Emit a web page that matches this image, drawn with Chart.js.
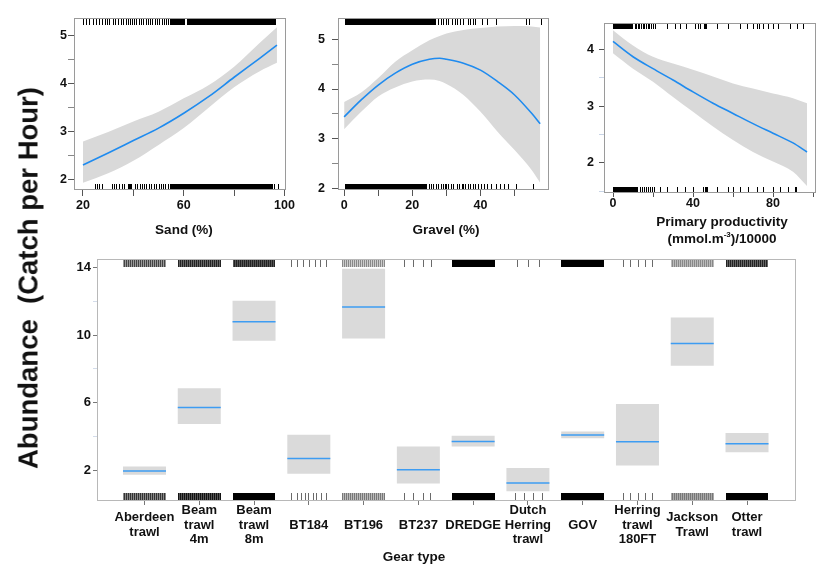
<!DOCTYPE html>
<html><head><meta charset="utf-8">
<script src="https://cdn.jsdelivr.net/npm/chart.js@4.4.0/dist/chart.umd.min.js"></script>
<style>
html,body{margin:0;padding:0;background:#fff;}
#root{position:relative;width:830px;height:584px;overflow:hidden;font-family:'Liberation Sans',Arial,sans-serif;color:#111;}
.wrap{position:absolute;}
.lbl{position:absolute;font-weight:bold;white-space:nowrap;transform:translate(-50%,-50%);line-height:1;font-size:13.5px;}
.ytitle{position:absolute;font-weight:bold;white-space:pre;font-size:27.5px;line-height:27px;transform:translate(-50%,-50%) rotate(-90deg);}
</style></head><body>
<div id="root">
  <div class="wrap" style="left:0;top:0;width:300px;height:250px"><canvas id="cSand"></canvas></div>
  <div class="wrap" style="left:270px;top:0;width:290px;height:250px"><canvas id="cGravel"></canvas></div>
  <div class="wrap" style="left:560px;top:0;width:270px;height:250px"><canvas id="cPP"></canvas></div>
  <div class="wrap" style="left:0;top:245px;width:830px;height:339px"><canvas id="cGear"></canvas></div>
  <div class="lbl" style="left:184px;top:230px">Sand (%)</div>
  <div class="lbl" style="left:446px;top:230px">Gravel (%)</div>
  <div class="lbl" style="left:722px;top:222px">Primary productivity</div>
  <div class="lbl" style="left:722px;top:238px">(mmol.m<sup style="font-size:8px">-3</sup>)/10000</div>
  <div class="lbl" style="left:414px;top:557px">Gear type</div>
  <div class="ytitle" style="left:28px;top:278px">Abundance  (Catch per Hour)</div>
</div>
<script>
// ---------------- DATA ----------------
// Sand
const sandX     = [20, 30, 40, 50, 60, 70, 80, 90, 97];
const sandFit   = [2.31, 2.56, 2.82, 3.08, 3.39, 3.74, 4.14, 4.53, 4.81];
const sandUpper = [2.80, 3.00, 3.22, 3.42, 3.70, 3.98, 4.36, 4.85, 5.18];
const sandLower = [1.94, 2.14, 2.40, 2.73, 3.08, 3.51, 3.93, 4.26, 4.44];
const sandXTicks = [20, 40, 60, 80, 100];
const sandXLabels = [20, 60, 100];
const sandYTicks = [2, 2.5, 3, 3.5, 4, 4.5, 5];
const sandYLabels = [2, 3, 4, 5];
const sandRugTop = [20, 21.2, 22.3, 24, 25.1, 26.2, 27.5, 28.6, 29.6, 30.4, 31.8, 32.8, 34.1, 35.1,
  36, 36.9, 37.8, 38.6, 39.5, 40.4, 41.2, 42.3, 43.1, 44, 45, 45.8, 46.7, 47.6, 48.5, 49.4, 50.3, 51.2, 52, 53, 53.8];
const sandRugTopDense = [[54.5, 60.4], [61.4, 96.6]];
const sandRugBottom = [24.8, 25.7, 26.5, 27.4, 31.4, 32.4, 33.3, 34.4, 35.3, 36.2, 40.6, 41.5, 42.6, 43.4, 44.3,
  45.2, 46.4, 47.2, 48.1, 49, 50.1, 50.9, 51.8, 52.7, 53.6, 96, 97.3];
const sandRugBottomDense = [[37.9, 39.3], [54.5, 95.4]];

// Gravel
const gravelX     = [0, 5, 10, 15, 20, 25, 28, 30, 35, 40, 45, 50, 55, 57.5];
const gravelFit   = [3.44, 3.78, 4.08, 4.32, 4.50, 4.60, 4.62, 4.60, 4.52, 4.38, 4.15, 3.88, 3.51, 3.30];
const gravelUpper = [3.74, 3.93, 4.22, 4.55, 4.78, 4.98, 5.07, 5.12, 5.19, 5.23, 5.26, 5.27, 5.26, 5.24];
const gravelLower = [3.19, 3.54, 3.85, 4.03, 4.15, 4.19, 4.16, 4.10, 3.88, 3.54, 3.14, 2.77, 2.37, 2.11];
const gravelXTicks = [0, 10, 20, 30, 40, 50];
const gravelXLabels = [0, 20, 40];
const gravelYTicks = [2, 2.5, 3, 3.5, 4, 4.5, 5];
const gravelYLabels = [2, 3, 4, 5];
const gravelRugTop = [27.5, 28.3, 29, 29.8, 30.5, 31.5, 32.4, 33.2, 34, 35, 36.2, 37, 37.9, 38.5, 40.5, 42, 44.4, 53.2, 54.1, 57.6];
const gravelRugTopDense = [[0.3, 26.8]];
const gravelRugBottom = [24.8, 25.5, 26.2, 27, 27.6, 28.3, 29, 29.5, 30, 30.5, 31.2, 32, 33, 33.8, 34.5, 35, 35.5,
  36.2, 37, 37.8, 38.5, 39.4, 40.2, 41, 42, 43, 44.4, 45.6, 46.8, 48.2, 50.3, 55.3];
const gravelRugBottomDense = [[0.3, 24.4]];

// Primary productivity
const ppX     = [0, 10, 20, 30, 40, 50, 60, 70, 80, 90, 97];
const ppFit   = [4.14, 3.87, 3.66, 3.46, 3.25, 3.05, 2.87, 2.69, 2.52, 2.35, 2.19];
const ppUpper = [4.34, 4.07, 3.87, 3.75, 3.64, 3.52, 3.40, 3.31, 3.22, 3.14, 3.05];
const ppLower = [3.93, 3.66, 3.43, 3.16, 2.90, 2.64, 2.40, 2.19, 2.02, 1.84, 1.59];
const ppXTicks = [0, 20, 40, 60, 80, 100];
const ppXLabels = [0, 40, 80];
const ppYTicks = [1.5, 2, 2.5, 3, 3.5, 4];
const ppYLabels = [2, 3, 4];
const ppRugTop = [10.8, 11.5, 12.3, 13, 14, 14.8, 15.6, 16.5, 17.3, 18.2, 19, 20, 21,
  26.8, 31, 33.5, 36.5, 41, 42.7, 43.5, 45.5, 46, 46.5, 51.8, 57.7, 63.5, 66.8, 70.2, 71.8, 73.2, 75.2, 77.7, 80.2, 82.7, 88.5, 91.8, 95.2];
const ppRugTopDense = [[0, 10]];
const ppRugBottom = [13.5, 14.5, 15.5, 16.5, 17.5, 18.5, 19.5, 20.5,
  23.5, 27, 32, 36, 40, 45, 45.8, 46.5, 47.2, 52, 57.5, 60, 63.5, 67.5, 72, 75, 80, 83.5, 87.5, 91, 91.6];
const ppRugBottomDense = [[0, 12.5]];

// Gear type
const gearTypes = ['Aberdeen trawl', 'Beam trawl 4m', 'Beam trawl 8m', 'BT184', 'BT196', 'BT237', 'DREDGE',
  'Dutch Herring trawl', 'GOV', 'Herring trawl 180FT', 'Jackson Trawl', 'Otter trawl'];
const gearTickLabels = [['Aberdeen', 'trawl'], ['Beam', 'trawl', '4m'], ['Beam', 'trawl', '8m'], ['BT184'], ['BT196'],
  ['BT237'], ['DREDGE'], ['Dutch', 'Herring', 'trawl'], ['GOV'], ['Herring', 'trawl', '180FT'], ['Jackson', 'Trawl'], ['Otter', 'trawl']];
const gearFit   = [1.98, 5.73, 10.78, 2.72, 11.66, 2.06, 3.72, 1.27, 4.10, 3.71, 9.51, 3.59];
const gearLower = [1.76, 4.76, 9.66, 1.82, 9.80, 1.24, 3.43, 0.78, 3.92, 2.31, 8.19, 3.08];
const gearUpper = [2.25, 6.86, 12.02, 4.12, 13.92, 3.43, 4.06, 2.16, 4.31, 5.94, 11.04, 4.22];
const gearYTicks = [2, 4, 6, 8, 10, 12, 14];
const gearYLabels = [2, 6, 10, 14];
// rug: jitter offsets for sparse gear types; null = many hauls (dense rug)
const gearRugTop = [null, null, null, [-0.32, -0.21, -0.10, 0.0, 0.11, 0.20, 0.31], null, [-0.26, -0.09, 0.08, 0.23],
  null, [-0.2, 0.0, 0.2], null, [-0.27, -0.13, 0.01, 0.13, 0.26], null, null];
const gearRugBottom = [null, null, null, [-0.32, -0.22, -0.15, -0.07, -0.01, 0.07, 0.14, 0.23, 0.31], null, [-0.26, -0.1, 0.08, 0.22],
  null, [-0.24, -0.07, 0.09, 0.25], null, [-0.27, -0.13, 0.01, 0.13, 0.26], null, null];

// ---------------- STYLE ----------------
Chart.defaults.font.family = "'Liberation Sans', Arial, sans-serif";
Chart.defaults.font.weight = 'bold';
Chart.defaults.color = '#111';
const BLUE = '#1f8bef';
const BAND = '#d9d9d9';
const denseTopShade = [['#444', '#999'], ['#222', '#666'], ['#222', '#555'], null, ['#888', '#ccc'], null, ['#000'], null, ['#000'], null, ['#888', '#bbb'], ['#222', '#666']];
const denseBottomShade = [['#333', '#888'], ['#111', '#555'], ['#000'], null, ['#777', '#bbb'], null, ['#000'], null, ['#000'], null, ['#777', '#aaa'], ['#000']];

function stripe(ctx, c) {
  if (c.length === 1) return c[0];
  const cv = document.createElement('canvas'); cv.width = 2; cv.height = 1;
  const g = cv.getContext('2d');
  g.fillStyle = c[0]; g.fillRect(0, 0, 1, 1);
  g.fillStyle = c[1]; g.fillRect(1, 0, 1, 1);
  return ctx.createPattern(cv, 'repeat');
}

function framePlugin(color) {
  return { id: 'frame', afterDraw(chart) {
    const a = chart.chartArea, ctx = chart.ctx;
    ctx.save(); ctx.strokeStyle = color; ctx.lineWidth = 1;
    ctx.strokeRect(Math.round(a.left) + 0.5, Math.round(a.top) + 0.5, Math.round(a.right - a.left), Math.round(a.bottom - a.top) - 1);
    ctx.restore();
  }};
}

function curveRugPlugin(rug, len, topGap) {
  return { id: 'rug', afterDatasetsDraw(chart) {
    const ctx = chart.ctx, a = chart.chartArea, x = chart.scales.x;
    ctx.save(); ctx.fillStyle = '#000';
    const draw = (vals, dense, y0, y1) => {
      dense.forEach(([s, e]) => { const p0 = Math.round(x.getPixelForValue(s)), p1 = Math.round(x.getPixelForValue(e)); ctx.fillRect(p0, y0, p1 - p0, y1 - y0); });
      vals.forEach(v => { const p = Math.round(x.getPixelForValue(v)); ctx.fillRect(p, y0, 1, y1 - y0); });
    };
    const t = Math.round(a.top) + topGap, b = Math.round(a.bottom);
    draw(rug.top, rug.topDense, t, t + len);
    draw(rug.bottom, rug.bottomDense, b - len, b);
    ctx.restore();
  }};
}

function tickCol(labels, major, minor) {
  return c => (c.tick && labels.includes(c.tick.value)) ? major : minor;
}

function curveChart(id, d, s) {
  const pts = ys => d.x.map((x, i) => ({ x, y: ys[i] }));
  return new Chart(document.getElementById(id), {
    type: 'line',
    data: { datasets: [
      { data: pts(d.fit), borderColor: BLUE, borderWidth: 1.6, pointRadius: 0, fill: false, cubicInterpolationMode: 'monotone' },
      { data: pts(d.upper), borderColor: 'rgba(0,0,0,0)', backgroundColor: BAND, pointRadius: 0, fill: '+1', cubicInterpolationMode: 'monotone' },
      { data: pts(d.lower), borderColor: 'rgba(0,0,0,0)', pointRadius: 0, fill: false, cubicInterpolationMode: 'monotone' }
    ]},
    options: {
      responsive: true, maintainAspectRatio: false, animation: false, events: [],
      layout: { autoPadding: false, padding: { top: s.top, right: s.right, left: 0, bottom: 0 } },
      plugins: { legend: { display: false }, tooltip: { enabled: false } },
      scales: {
        x: { type: 'linear', min: s.xmin, max: s.xmax,
          afterBuildTicks: ax => { ax.ticks = d.xTicks.map(v => ({ value: v })); },
          afterFit: ax => { ax.height = s.xh; },
          ticks: { autoSkip: false, maxRotation: 0, padding: s.xpad, font: { size: 12.5, lineHeight: 1 }, color: '#111',
            callback: v => d.xLabels.includes(v) ? String(v) : '' },
          grid: { drawOnChartArea: false, tickLength: s.xtick, tickColor: '#555' },
          border: { display: false } },
        y: { type: 'linear', min: s.ymin, max: s.ymax,
          afterBuildTicks: ax => { ax.ticks = d.yTicks.map(v => ({ value: v })); },
          afterFit: ax => { ax.width = s.yw; },
          ticks: { autoSkip: false, padding: s.ypad, font: { size: 12.5, lineHeight: 1 }, color: '#111',
            callback: v => d.yLabels.includes(v) ? String(v) : '' },
          grid: { drawOnChartArea: false, tickLength: s.ytick, tickColor: tickCol(d.yLabels, '#555', s.minor) },
          border: { display: false } }
      }
    },
    plugins: [curveRugPlugin(d.rug, s.rugLen, s.rugGap), framePlugin('#9a9a9a')]
  });
}

curveChart('cSand',
  { x: sandX, fit: sandFit, upper: sandUpper, lower: sandLower, xTicks: sandXTicks, xLabels: sandXLabels, yTicks: sandYTicks, yLabels: sandYLabels,
    rug: { top: sandRugTop, topDense: sandRugTopDense, bottom: sandRugBottom, bottomDense: sandRugBottomDense } },
  { top: 18, right: 15, xmin: 16.44, xmax: 100.2, ymin: 1.79, ymax: 5.375, xh: 60, yw: 74, xpad: 3, ypad: 1, xtick: 6, ytick: 6, minor: '#888', rugLen: 6, rugGap: 1 });

curveChart('cGravel',
  { x: gravelX, fit: gravelFit, upper: gravelUpper, lower: gravelLower, xTicks: gravelXTicks, xLabels: gravelXLabels, yTicks: gravelYTicks, yLabels: gravelYLabels,
    rug: { top: gravelRugTop, topDense: gravelRugTopDense, bottom: gravelRugBottom, bottomDense: gravelRugBottomDense } },
  { top: 18, right: 12, xmin: -1.8, xmax: 59.8, ymin: 1.966, ymax: 5.43, xh: 60, yw: 68, xpad: 3, ypad: 7, xtick: 6, ytick: 6, minor: '#888', rugLen: 6, rugGap: 1 });

curveChart('cPP',
  { x: ppX, fit: ppFit, upper: ppUpper, lower: ppLower, xTicks: ppXTicks, xLabels: ppXLabels, yTicks: ppYTicks, yLabels: ppYLabels,
    rug: { top: ppRugTop, topDense: ppRugTopDense, bottom: ppRugBottom, bottomDense: ppRugBottomDense } },
  { top: 23, right: 15, xmin: -4.5, xmax: 101, ymin: 1.466, ymax: 4.466, xh: 57, yw: 44, xpad: 0, ypad: 5, xtick: 4, ytick: 5, minor: '#c8d4e6', rugLen: 6, rugGap: 0 });

// Gear chart
const RUG_HALF = 0.39;
const gearRugPlugin = { id: 'gearRug', afterDatasetsDraw(chart) {
  const ctx = chart.ctx, a = chart.chartArea, x = chart.scales.x;
  ctx.save();
  const t = Math.round(a.top), b = Math.round(a.bottom);
  [[gearRugTop, denseTopShade, t, t + 8], [gearRugBottom, denseBottomShade, b - 8, b]].forEach(([rug, shade, y0, y1]) => {
    rug.forEach((offs, i) => {
      const c = i + 1;
      if (offs) {
        ctx.fillStyle = '#6a6a6a';
        offs.forEach(o => { const p = Math.round(x.getPixelForValue(c + o)); ctx.fillRect(p, y0, 1, y1 - y0); });
      } else {
        const p0 = Math.round(x.getPixelForValue(c - RUG_HALF)), p1 = Math.round(x.getPixelForValue(c + RUG_HALF));
        ctx.fillStyle = stripe(ctx, shade[i]);
        ctx.fillRect(p0, y0, p1 - p0, y1 - y0);
      }
    });
  });
  ctx.restore();
}};

new Chart(document.getElementById('cGear'), {
  type: 'bar',
  data: { datasets: [
    { type: 'line', showLine: false, data: gearFit.map((v, i) => ({ x: i + 1, y: v })), pointStyle: 'line', pointRadius: 21.5,
      pointBorderColor: '#3d9cf2', borderColor: '#3d9cf2', pointBorderWidth: 1.5 },
    { type: 'bar', data: gearTypes.map((g, i) => ({ x: i + 1, y: [gearLower[i], gearUpper[i]] })), backgroundColor: '#dadada',
      borderWidth: 0, categoryPercentage: 1, barPercentage: 0.785 }
  ]},
  options: {
    responsive: true, maintainAspectRatio: false, animation: false, events: [],
    layout: { autoPadding: false, padding: { top: 14, right: 35, left: 0, bottom: 0 } },
    plugins: { legend: { display: false }, tooltip: { enabled: false } },
    scales: {
      x: { type: 'linear', min: 0.133, max: 12.876, offset: false,
        afterBuildTicks: ax => { ax.ticks = gearTypes.map((g, i) => ({ value: i + 1 })); },
        afterFit: ax => { ax.height = 83; },
        ticks: { autoSkip: false, maxRotation: 0, minRotation: 0, padding: 5.5, crossAlign: 'center', font: { size: 13, lineHeight: 1.12 }, color: '#111',
          callback: v => gearTickLabels[Math.round(v) - 1] },
        grid: { offset: false, drawOnChartArea: false, tickLength: 4, tickColor: '#777' },
        border: { display: false } },
      y: { type: 'linear', min: 0.21, max: 14.49,
        afterBuildTicks: ax => { ax.ticks = gearYTicks.map(v => ({ value: v })); },
        afterFit: ax => { ax.width = 97; },
        ticks: { autoSkip: false, padding: 2, font: { size: 13, lineHeight: 1 }, color: '#111',
          callback: v => gearYLabels.includes(v) ? String(v) : '' },
        grid: { drawOnChartArea: false, tickLength: 4, tickColor: tickCol(gearYLabels, '#777', '#d3dcea') },
        border: { display: false } }
    }
  },
  plugins: [gearRugPlugin, framePlugin('#b8b8b8')]
});
</script>
</body></html>
